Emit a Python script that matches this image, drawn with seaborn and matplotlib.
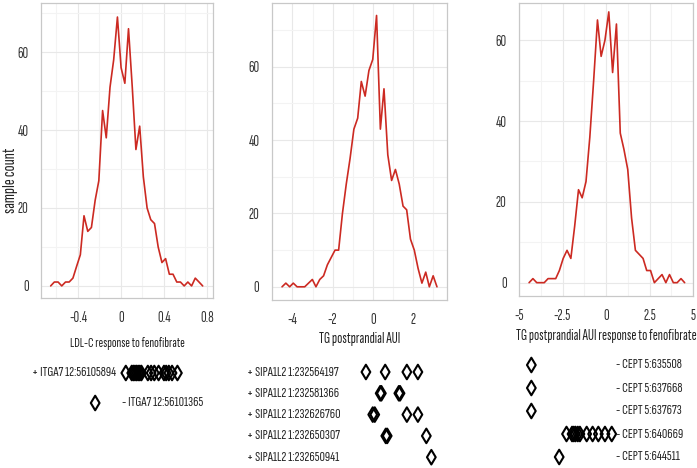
import numpy as np
import pandas as pd
import seaborn as sns
import matplotlib.pyplot as plt
from matplotlib.ticker import MultipleLocator

# histogram outlines (bin centre, sample count)
ldl_x = [-0.654, -0.62, -0.585, -0.551, -0.516, -0.482, -0.447, -0.413, -0.378, -0.344, -0.309,
         -0.275, -0.24, -0.206, -0.171, -0.137, -0.102, -0.068, -0.033, 0.001, 0.036, 0.07,
         0.105, 0.139, 0.174, 0.208, 0.243, 0.277, 0.312, 0.346, 0.381, 0.415, 0.45, 0.484,
         0.519, 0.553, 0.588, 0.622, 0.657, 0.691, 0.726, 0.76]
ldl_n = [0, 1, 1, 0, 1, 1, 2, 5, 8, 18, 14, 15, 22, 27, 45, 38, 51, 58, 69, 56, 52, 66,
         51, 35, 41, 28, 20, 17, 16, 10, 6, 7, 3, 3, 1, 1, 0, 1, 0, 2, 1, 0]

tg_x = [-4.52, -4.33, -4.14, -3.96, -3.77, -3.58, -3.39, -3.2, -3.01, -2.83, -2.64, -2.45,
        -2.26, -2.07, -1.88, -1.7, -1.51, -1.32, -1.13, -0.94, -0.75, -0.57, -0.38, -0.19,
        0.0, 0.19, 0.38, 0.56, 0.75, 0.94, 1.13, 1.32, 1.51, 1.69, 1.88, 2.07, 2.26, 2.45,
        2.64, 2.82, 3.01, 3.2]
tg_n = [0, 1, 0, 1, 0, 0, 0, 1, 2, 0, 2, 3, 6, 8, 10, 10, 20, 28, 35, 43, 46, 56, 52, 59,
        62, 74, 43, 54, 36, 29, 32, 28, 22, 21, 13, 10, 5, 1, 4, 0, 3, 0]

tgr_x = [-4.42, -4.2, -3.98, -3.77, -3.55, -3.33, -3.11, -2.89, -2.68, -2.46, -2.24, -2.02,
         -1.8, -1.58, -1.37, -1.15, -0.93, -0.71, -0.49, -0.28, -0.06, 0.16, 0.38, 0.6, 0.82,
         1.03, 1.25, 1.47, 1.69, 1.91, 2.13, 2.34, 2.56, 2.78, 3.0, 3.22, 3.44, 3.65, 3.87,
         4.09, 4.31, 4.52]
tgr_n = [0, 1, 0, 0, 0, 1, 1, 1, 3, 6, 8, 6, 14, 23, 21, 25, 36, 50, 65, 56, 60, 67, 52, 64,
         37, 33, 28, 16, 8, 7, 6, 3, 3, 0, 1, 2, 0, 2, 0, 0, 1, 0]

# SNP rows under each panel
ldl_snps = ['+ ITGA7 12:56105894', '- ITGA7 12:56101365']
ldl_pos = [[0.045, 0.10, 0.115, 0.13, 0.145, 0.16, 0.175, 0.19, 0.25, 0.28, 0.31, 0.35,
            0.40, 0.42, 0.445, 0.475, 0.525],
           [-0.24]]

tg_snps = ['+ SIPA1L2 1:232564197', '+ SIPA1L2 1:232581366', '+ SIPA1L2 1:232626760',
           '+ SIPA1L2 1:232650307', '+ SIPA1L2 1:232650941']
tg_pos = [[-0.34, 0.62, 1.7, 2.25],
          [0.37, 0.43, 1.3, 1.36],
          [0.0, 0.1, 1.7, 2.25],
          [0.65, 0.72, 2.67],
          [2.92]]

tgr_snps = ['- CEPT 5:635508', '- CEPT 5:637668', '- CEPT 5:637673',
            '- CEPT 5:640669', '- CEPT 5:644511']
tgr_pos = [[-4.29], [-4.29], [-4.29],
           [-2.27, -1.95, -1.85, -1.75, -1.62, -1.5, -1.11, -0.77, -0.44, -0.06, 0.33],
           [-2.69]]

sns.set_style('white')
FONT = ['Sofia Sans Extra Condensed', 'Fira Sans Extra Condensed', 'DejaVu Sans']
plt.rcParams['font.family'] = FONT

W, H = 697, 468
fig = plt.figure(figsize=(W / 100, H / 100), dpi=100)
renderer = fig.canvas.get_renderer()


def fit(text, width_px):
    # font size that gives the text the width it has in the reference
    t = fig.text(0, 0, text, fontsize=10)
    w = t.get_window_extent(renderer).width
    t.remove()
    return 10 * width_px / w


tick_fs = fit('-0.4', 18)
row_fs = fit('+ SIPA1L2 1:232564197', 92)

red = '#cc2a22'
grid_major = '#e8e8e8'
grid_minor = '#f3f3f3'

# panel boxes in pixels: left, top, right, bottom
panels = [
    dict(box=(41, 3, 213, 298), x=ldl_x, n=ldl_n, xlim=(-0.744, 0.856), ylim=(-3.1, 72.6),
         xmin=0.2, xticks=[-0.4, 0, 0.4, 0.8], xticklabels=['-0.4', '0', '0.4', '0.8'],
         xlabel='LDL-C response to fenofibrate', xlw=115, labelpad=9,
         snps=ldl_snps, pos=ldl_pos, row0=373, rowstep=30),
    dict(box=(272, 3, 447, 300), x=tg_x, n=tg_n, xlim=(-5.02, 3.7), ylim=(-3.6, 77.4),
         xmin=1, xticks=[-4, -2, 0, 2], xticklabels=['-4', '-2', '0', '2'],
         xlabel='TG postprandial AUI', xlw=81, labelpad=4,
         snps=tg_snps, pos=tg_pos, row0=372, rowstep=21.3),
    dict(box=(519, 3, 693, 296), x=tgr_x, n=tgr_n, xlim=(-5.0, 5.0), ylim=(-3.3, 69.2),
         xmin=1.25, xticks=[-5, -2.5, 0, 2.5, 5], xticklabels=['-5', '-2.5', '0', '2.5', '5'],
         xlabel='TG postprandial AUI response to fenofibrate', xlw=180, labelpad=5,
         snps=tgr_snps, pos=tgr_pos, row0=365, rowstep=23),
]

for i, p in enumerate(panels):
    l, t, r, b = p['box']
    ax = fig.add_axes([l / W, 1 - b / H, (r - l) / W, (b - t) / H])
    df = pd.DataFrame({'x': p['x'], 'n': p['n']})
    sns.lineplot(data=df, x='x', y='n', ax=ax, color=red, linewidth=1.2)
    ax.set_xlim(*p['xlim'])
    ax.set_ylim(*p['ylim'])
    ax.set_xticks(p['xticks'])
    ax.set_xticklabels(p['xticklabels'])
    ax.set_yticks([0, 20, 40, 60])
    ax.xaxis.set_minor_locator(MultipleLocator(p['xmin']))
    ax.yaxis.set_minor_locator(MultipleLocator(10))
    ax.grid(which='major', color=grid_major, linewidth=0.8)
    ax.grid(which='minor', color=grid_minor, linewidth=0.8)
    ax.set_axisbelow(True)
    for s in ax.spines.values():
        s.set_color('#c8c8c8')
        s.set_linewidth(0.9)
    ax.tick_params(which='major', length=3, width=0.8, color='#999999', pad=6,
                   labelsize=tick_fs, labelcolor='#333333')
    ax.tick_params(which='minor', length=0)
    ax.set_xlabel(p['xlabel'], fontsize=fit(p['xlabel'], p['xlw']),
                  labelpad=p['labelpad'], color='#222222')
    if i == 0:
        ax.set_ylabel('sample count', fontsize=fit('sample count', 65), color='#222222')
        ax.yaxis.set_label_coords(-0.135, 0.4)
    else:
        ax.set_ylabel('')

    # SNP diamonds below the panel, sharing its x scale
    top_px, bot_px = 352, 468
    axb = fig.add_axes([l / W, 0, (r - l) / W, (bot_px - top_px) / H])
    axb.set_xlim(*p['xlim'])
    axb.set_ylim((bot_px - p['row0']) / p['rowstep'], (top_px - p['row0']) / p['rowstep'])
    axb.axis('off')
    rows = []
    for k, xs in enumerate(p['pos']):
        for xv in xs:
            rows.append((xv, k))
    dd = pd.DataFrame(rows, columns=['x', 'row'])
    sns.scatterplot(data=dd, x='x', y='row', ax=axb, marker='d', s=55,
                    facecolor='none', edgecolor='black', linewidth=1.5)
    tr = axb.get_yaxis_transform()
    for k, name in enumerate(p['snps']):
        if i == 0:
            if k == 0:
                axb.text(0.436, k, name, transform=tr, ha='right', va='center', fontsize=row_fs)
            else:
                axb.text(0.471, k, name, transform=tr, ha='left', va='center', fontsize=row_fs)
        elif i == 1:
            axb.text(-0.143, k, name, transform=tr, ha='left', va='center', fontsize=row_fs)
        else:
            axb.text(0.56, k, name, transform=tr, ha='left', va='center', fontsize=row_fs)

fig.savefig('out.png', dpi=100)
